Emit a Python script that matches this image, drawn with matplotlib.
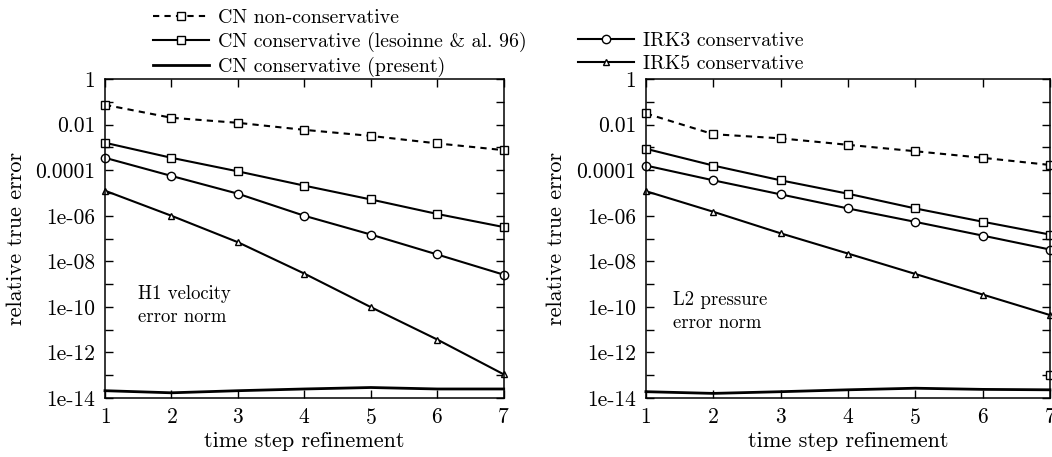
import matplotlib
matplotlib.use("Agg")
import matplotlib.pyplot as plt
from matplotlib.lines import Line2D

plt.rcParams['font.family'] = ['cmr10', 'DejaVu Serif']
plt.rcParams['axes.formatter.use_mathtext'] = True
plt.rcParams['font.size'] = 13

steps = [1, 2, 3, 4, 5, 6, 7]

# H1 velocity error norm (left panel)
cn_nc_left = [7.4e-2, 2.0e-2, 1.2e-2, 5.9e-3, 3.2e-3, 1.5e-3, 7.6e-4]
cn_les_left = [1.6e-3, 3.5e-4, 8.9e-5, 2.1e-5, 5.2e-6, 1.2e-6, 3.2e-7]
irk3_left = [3.5e-4, 5.6e-5, 9.3e-6, 1.0e-6, 1.5e-7, 2.0e-8, 2.6e-9]
irk5_left = [1.26e-5, 1.0e-6, 6.9e-8, 2.9e-9, 9.8e-11, 3.7e-12, 1.1e-13]
cn_pres_left = [2.1e-14, 1.7e-14, 2.1e-14, 2.5e-14, 2.9e-14, 2.5e-14, 2.5e-14]

# L2 pressure error norm (right panel)
cn_nc_right = [3.1e-2, 3.8e-3, 2.5e-3, 1.3e-3, 6.8e-4, 3.5e-4, 1.7e-4]
cn_les_right = [8.7e-4, 1.6e-4, 3.6e-5, 9.3e-6, 2.1e-6, 5.5e-7, 1.5e-7]
irk3_right = [1.6e-4, 3.6e-5, 8.7e-6, 2.1e-6, 5.4e-7, 1.35e-7, 3.3e-8]
irk5_right = [1.2e-5, 1.5e-6, 1.7e-7, 2.2e-8, 2.8e-9, 3.5e-10, 4.4e-11]
cn_pres_right = [1.9e-14, 1.6e-14, 1.9e-14, 2.3e-14, 2.7e-14, 2.4e-14, 2.3e-14]
extra_x, extra_y = [7], [1.0e-13]

ytick_vals = [10.0 ** -k for k in range(0, 15)]
ytick_labels = ['1', '', '0.01', '', '0.0001', '', '1e-06', '', '1e-08', '',
                '1e-10', '', '1e-12', '', '1e-14']

labels = ['CN non-conservative', 'CN conservative (lesoinne & al. 96)',
          'CN conservative (present)', 'IRK3 conservative', 'IRK5 conservative']

lw = 1.5
dash = (0, (3, 2.5))
sq = dict(marker='s', ms=5.5, mfc='white', mec='black', mew=1.0)
ci = dict(marker='o', ms=6, mfc='white', mec='black', mew=1.0)
tr = dict(marker='^', ms=4.5, mfc='white', mec='black', mew=1.0)


def panel(ax, nc, les, irk3, irk5, pres, note, note_xy):
    ax.plot(steps, nc, color='black', lw=lw, ls=dash, clip_on=False, **sq)
    ax.plot(steps, les, color='black', lw=lw, clip_on=False, **sq)
    ax.plot(steps, pres, color='black', lw=2.0, clip_on=False)
    ax.plot(steps, irk3, color='black', lw=lw, clip_on=False, **ci)
    ax.plot(steps, irk5, color='black', lw=lw, clip_on=False, **tr)
    ax.set_yscale('log')
    ax.set_xlim(1, 7)
    ax.set_ylim(1e-14, 1)
    ax.set_yticks(ytick_vals)
    ax.set_yticklabels(ytick_labels)
    ax.minorticks_off()
    ax.set_xticks(steps)
    ax.tick_params(direction='in', top=True, right=True, length=6, width=1, pad=7,
                   labelsize=15.5)
    for s in ax.spines.values():
        s.set_linewidth(1.1)
    ax.set_xlabel('time step refinement', fontsize=16, labelpad=3)
    ax.set_ylabel('relative true error', fontsize=16, labelpad=7)
    ax.text(note_xy[0], note_xy[1], note, transform=ax.transAxes, fontsize=13.5,
            va='top', ha='left', linespacing=1.35)


fig = plt.figure(figsize=(10.52, 4.57), dpi=100)
ax1 = fig.add_axes([0.0998, 0.129, 0.379, 0.698])
ax2 = fig.add_axes([0.614, 0.129, 0.384, 0.698])

panel(ax1, cn_nc_left, cn_les_left, irk3_left, irk5_left, cn_pres_left,
      'H1 velocity\nerror norm', (0.083, 0.355))
panel(ax2, cn_nc_right, cn_les_right, irk3_right, irk5_right, cn_pres_right,
      'L2 pressure\nerror norm', (0.067, 0.335))
ax2.plot(extra_x, extra_y, ls='none', clip_on=False, **sq)

h_nc = Line2D([], [], color='black', lw=lw, ls=dash, **sq)
h_les = Line2D([], [], color='black', lw=lw, **sq)
h_pres = Line2D([], [], color='black', lw=2.0)
h_irk3 = Line2D([], [], color='black', lw=lw, **ci)
h_irk5 = Line2D([], [], color='black', lw=lw, **tr)

leg_kw = dict(frameon=False, loc='upper left', borderpad=0, borderaxespad=0,
              handlelength=2.8, handletextpad=0.45, labelspacing=0.25,
              numpoints=1, fontsize=14.3)
fig.legend([h_nc, h_les, h_pres], labels[:3],
           bbox_to_anchor=(153 / 1052, 1 - 9 / 457), **leg_kw)
fig.legend([h_irk3, h_irk5], labels[3:],
           bbox_to_anchor=(578 / 1052, 1 - 32 / 457), **leg_kw)

fig.savefig('out.png', dpi=100)
